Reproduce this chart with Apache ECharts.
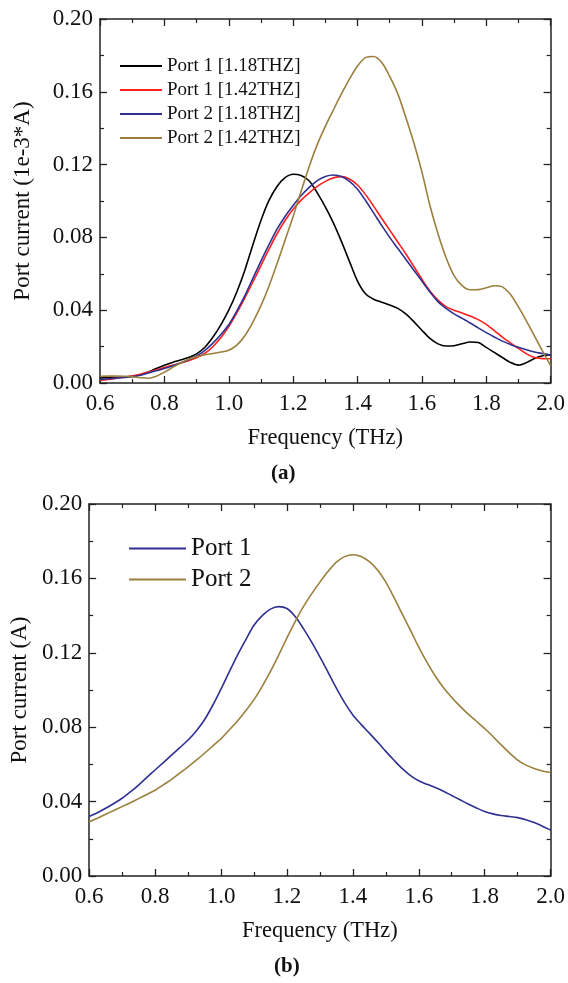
<!DOCTYPE html>
<html>
<head>
<meta charset="utf-8">
<script src="https://cdn.jsdelivr.net/npm/echarts@6/dist/echarts.min.js"></script>
<style>
html,body{margin:0;padding:0;background:#fff;}
#chart{width:568px;height:983px;}
</style>
</head>
<body>
<div id="chart"></div>
<script>
// Frequency samples (THz), shared by every curve
const freq = [0.600,0.625,0.650,0.675,0.700,0.725,0.750,0.775,0.800,0.825,0.850,0.875,0.900,0.925,0.950,0.975,
              1.000,1.025,1.050,1.075,1.100,1.125,1.150,1.175,1.200,1.225,1.250,1.275,1.300,1.325,1.350,1.375,
              1.400,1.425,1.450,1.475,1.500,1.525,1.550,1.575,1.600,1.625,1.650,1.675,1.700,1.725,1.750,1.775,
              1.800,1.825,1.850,1.875,1.900,1.925,1.950,1.975,2.000];

// ---- Panel (a) ----
const a_p1_118 = [0.0027,0.0030,0.0032,0.0034,0.0037,0.0045,0.0060,0.0080,0.0098,0.0113,0.0126,0.0140,0.0160,0.0195,0.0250,0.0318,
                  0.0400,0.0500,0.0620,0.0760,0.0893,0.1003,0.1080,0.1128,0.1147,0.1140,0.1110,0.1045,0.0968,0.0880,0.0778,0.0668,
                  0.0560,0.0490,0.0460,0.0444,0.0428,0.0410,0.0380,0.0337,0.0290,0.0245,0.0215,0.0203,0.0205,0.0216,0.0225,0.0222,
                  0.0196,0.0168,0.0140,0.0113,0.0098,0.0112,0.0135,0.0150,0.0154];
const a_p1_142 = [0.0015,0.0020,0.0026,0.0032,0.0038,0.0048,0.0060,0.0073,0.0085,0.0097,0.0110,0.0122,0.0138,0.0162,0.0198,0.0248,
                  0.0310,0.0385,0.0468,0.0555,0.0645,0.0735,0.0820,0.0893,0.0955,0.1005,0.1045,0.1080,0.1108,0.1127,0.1134,0.1121,
                  0.1088,0.1035,0.0972,0.0905,0.0840,0.0775,0.0710,0.0640,0.0570,0.0505,0.0455,0.0420,0.0400,0.0385,0.0368,0.0348,
                  0.0322,0.0288,0.0252,0.0220,0.0190,0.0160,0.0140,0.0134,0.0133];
const a_p2_118 = [0.0020,0.0023,0.0027,0.0030,0.0034,0.0043,0.0055,0.0067,0.0080,0.0094,0.0110,0.0128,0.0148,0.0178,0.0218,0.0265,
                  0.0320,0.0395,0.0480,0.0575,0.0670,0.0760,0.0845,0.0915,0.0975,0.1030,0.1075,0.1112,0.1135,0.1143,0.1134,0.1108,
                  0.1065,0.1003,0.0935,0.0866,0.0800,0.0740,0.0680,0.0620,0.0560,0.0500,0.0447,0.0410,0.0380,0.0355,0.0330,0.0303,
                  0.0277,0.0253,0.0230,0.0212,0.0196,0.0183,0.0170,0.0162,0.0154];
const a_p2_142 = [0.0037,0.0038,0.0038,0.0037,0.0034,0.0029,0.0026,0.0037,0.0060,0.0085,0.0110,0.0130,0.0145,0.0155,0.0162,0.0170,
                  0.0180,0.0208,0.0260,0.0335,0.0425,0.0532,0.0655,0.0785,0.0915,0.1055,0.1190,0.1310,0.1410,0.1500,0.1588,0.1670,
                  0.1742,0.1788,0.1794,0.1762,0.1685,0.1590,0.1460,0.1320,0.1160,0.0975,0.0820,0.0690,0.0590,0.0535,0.0512,0.0513,
                  0.0523,0.0534,0.0528,0.0488,0.0418,0.0340,0.0258,0.0175,0.0095];

// ---- Panel (b) ----
const b_p1 = [0.0320,0.0340,0.0364,0.0390,0.0418,0.0452,0.0489,0.0530,0.0570,0.0610,0.0650,0.0690,0.0731,0.0780,0.0840,0.0918,
              0.1005,0.1097,0.1188,0.1270,0.1348,0.1400,0.1435,0.1448,0.1438,0.1395,0.1330,0.1257,0.1178,0.1095,0.1010,0.0932,
              0.0866,0.0815,0.0768,0.0720,0.0670,0.0622,0.0577,0.0540,0.0512,0.0493,0.0476,0.0456,0.0433,0.0410,0.0387,0.0366,
              0.0347,0.0334,0.0325,0.0320,0.0314,0.0303,0.0287,0.0268,0.0247];
const b_p2 = [0.0290,0.0311,0.0332,0.0352,0.0373,0.0394,0.0416,0.0438,0.0461,0.0490,0.0520,0.0553,0.0587,0.0623,0.0660,0.0699,
              0.0738,0.0785,0.0833,0.0888,0.0948,0.1020,0.1100,0.1188,0.1280,0.1368,0.1448,0.1517,0.1580,0.1638,0.1688,0.1717,
              0.1727,0.1718,0.1690,0.1645,0.1580,0.1497,0.1408,0.1320,0.1230,0.1148,0.1075,0.1012,0.0960,0.0913,0.0870,0.0832,
              0.0793,0.0750,0.0705,0.0662,0.0623,0.0596,0.0578,0.0565,0.0556];

// ---- Labels ----
const legendA = ['Port 1 [1.18THZ]','Port 1 [1.42THZ]','Port 2 [1.18THZ]','Port 2 [1.42THZ]'];
const legendB = ['Port 1','Port 2'];
const xName = 'Frequency (THz)';
const yNameA = 'Port current (1e-3*A)';
const yNameB = 'Port current (A)';
const panelA = '(a)';
const panelB = '(b)';

const colors = {black:'#000000', red:'#ff1f1f', blue:'#2e3192', gold:'#9b7f3c'};
const FONT = '"Liberation Serif","Times New Roman",serif';

function pairs(ys){ return freq.map((f,i)=>[f, ys[i]]); }

const grids = [
  {left:100, top:19, width:454, height:364},
  {left:89, top:504, width:464, height:372}
];

function xAxes(gi){
  const common = {type:'value', gridIndex:gi, min:0.6, max:2.0, interval:0.2,
    axisLine:{show:true, onZero:false, lineStyle:{color:'#222', width:1.5}},
    axisTick:{show:true, inside:true, length:7, lineStyle:{color:'#222', width:1.3}},
    minorTick:{show:true, splitNumber:2, length:4, lineStyle:{color:'#222', width:1.2}},
    splitLine:{show:false}, minorSplitLine:{show:false}};
  return [
    Object.assign({}, common, {position:'bottom', name:xName, nameLocation:'middle', nameGap:44,
      nameTextStyle:{fontFamily:FONT, fontSize:22.5, color:'#111'},
      axisLabel:{show:true, margin:9, fontFamily:FONT, fontSize:23, color:'#111', formatter:v=>v.toFixed(1)}}),
    Object.assign({}, common, {position:'top', axisLabel:{show:false}})
  ];
}
function yAxes(gi, name, gap){
  const common = {type:'value', gridIndex:gi, min:0, max:0.2, interval:0.04,
    axisLine:{show:true, onZero:false, lineStyle:{color:'#222', width:1.5}},
    axisTick:{show:true, inside:true, length:7, lineStyle:{color:'#222', width:1.3}},
    minorTick:{show:true, splitNumber:2, length:4, lineStyle:{color:'#222', width:1.2}},
    splitLine:{show:false}, minorSplitLine:{show:false}};
  return [
    Object.assign({}, common, {position:'left', name:name, nameLocation:'middle', nameGap:gap,
      nameTextStyle:{fontFamily:FONT, fontSize:23, color:'#111'},
      axisLabel:{show:true, margin:7, fontFamily:FONT, fontSize:23, color:'#111', formatter:v=>v.toFixed(2)}}),
    Object.assign({}, common, {position:'right', axisLabel:{show:false}})
  ];
}

function line(name, ys, color, xi, yi){
  return {type:'line', name:name, data:pairs(ys), xAxisIndex:xi, yAxisIndex:yi,
    smooth:0.3, showSymbol:false, symbol:'none', lineStyle:{color:color, width:1.6},
    itemStyle:{color:color}, emphasis:{disabled:true}, animation:false};
}

const option = {
  animation:false,
  backgroundColor:'#fff',
  grid: grids,
  xAxis: [...xAxes(0), ...xAxes(1)],
  yAxis: [...yAxes(0, yNameA, 66), ...yAxes(1, yNameB, 56)],
  legend: [
    {data:legendA, orient:'vertical', left:120, top:54, padding:0, itemGap:0,
     icon:'rect', itemWidth:42, itemHeight:2,
     textStyle:{fontFamily:FONT, fontSize:19, color:'#111', lineHeight:24}},
    {data:legendB, orient:'vertical', left:129, top:533, padding:0, itemGap:0,
     icon:'rect', itemWidth:57, itemHeight:2,
     textStyle:{fontFamily:FONT, fontSize:25, color:'#111', lineHeight:31}}
  ],
  graphic: [
    {type:'text', left:285-14, top:463, style:{text:panelA, font:'bold 21px "Liberation Serif", serif', fill:'#111'}},
    {type:'text', left:288-14, top:956, style:{text:panelB, font:'bold 21px "Liberation Serif", serif', fill:'#111'}}
  ],
  series: [
    line(legendA[0], a_p1_118, colors.black, 0, 0),
    line(legendA[1], a_p1_142, colors.red, 0, 0),
    line(legendA[2], a_p2_118, colors.blue, 0, 0),
    line(legendA[3], a_p2_142, colors.gold, 0, 0),
    line(legendB[0], b_p1, colors.blue, 2, 2),
    line(legendB[1], b_p2, colors.gold, 2, 2)
  ]
};

const chart = echarts.init(document.getElementById('chart'), null, {renderer:'canvas'});
chart.setOption(option);
</script>
</body>
</html>
